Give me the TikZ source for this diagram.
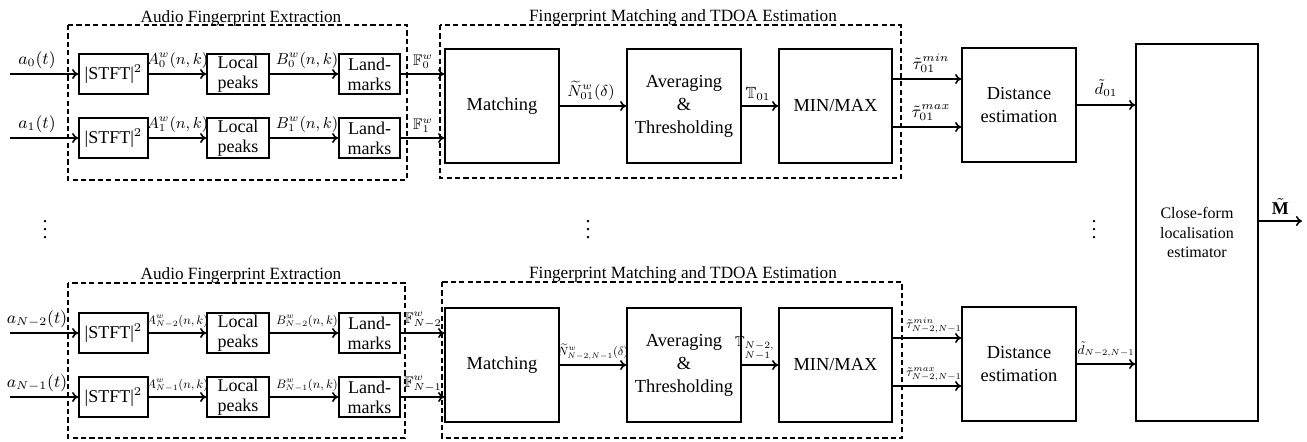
\documentclass[tikz,border=0pt]{standalone}
\usepackage{amsmath,amssymb,graphicx}
\usepackage{fontspec}
\setmainfont{Liberation Serif}
\usetikzlibrary{arrows.meta,calc}
\def\u{0.5pt}
\newcommand\msz[2]{\scalebox{#1}{$#2$}}
\begin{document}
\begin{tikzpicture}[x=0.5pt,y=-0.5pt,
  blk/.style={draw,line width=0.9pt,align=center,inner sep=0pt,font=\fontsize{9}{10}\selectfont},
  big/.style={blk,font=\fontsize{9.2}{11.5}\selectfont},
  group/.style={draw,line width=0.8pt,dash pattern=on 2.6pt off 1.6pt},
  arr/.style={line width=0.8pt,-{To[length=3pt,width=5pt]}},
  lbl/.style={font=\fontsize{9}{10}\selectfont,inner sep=1pt,anchor=south},
  ttl/.style={font=\fontsize{8.6}{10}\selectfont,inner sep=0pt,anchor=base}]
\useasboundingbox (0,0) rectangle (1307,441);

% group boxes (dashed frames)
\draw[group] (68,25) rectangle (407,180);
\draw[group] (440,25) rectangle (901,178);
\draw[group] (68,283) rectangle (405,438);
\draw[group] (442,282) rectangle (902,438);
\node[ttl] (T1) at (241,22) {Audio Fingerprint Extraction};
\node[ttl] (T2) at (683,21) {Fingerprint Matching and TDOA Estimation};
\node[ttl] (T3) at (241,279) {Audio Fingerprint Extraction};
\node[ttl] (T4) at (683,278) {Fingerprint Matching and TDOA Estimation};

% big blocks
\node[big,minimum width=114*\u,minimum height=114*\u] (MA) at (502,106) {Matching};
\node[big,minimum width=114*\u,minimum height=114*\u] (AA) at (684,106) {Averaging\\\&\\Thresholding};
\node[big,minimum width=113*\u,minimum height=114*\u] (XA) at (835.5,106) {MIN/MAX};
\node[big,minimum width=114*\u,minimum height=114*\u] (DA) at (1019,105) {Distance\\estimation};
\node[big,minimum width=114*\u,minimum height=114*\u] (MB) at (502,365) {Matching};
\node[big,minimum width=114*\u,minimum height=114*\u] (AB) at (684,365) {Averaging\\\&\\Thresholding};
\node[big,minimum width=113*\u,minimum height=114*\u] (XB) at (835.5,365) {MIN/MAX};
\node[big,minimum width=114*\u,minimum height=114*\u] (DB) at (1019,364) {Distance\\estimation};
\node[blk,minimum width=122*\u,minimum height=377*\u,font=\fontsize{8}{9.6}\selectfont] (C) at (1197,232.5) {Close-form\\localisation\\estimator};

% rows
\foreach \i/\y/\s/\m/\sc in {0/74/0/MA/0.88,1/138/1/MA/0.88,2/333/N-2/MB/0.68,3/397/N-1/MB/0.68}{
  \node[blk,minimum width=69*\u,minimum height=40*\u] (S\i) at (113.5,\y) {|STFT|$^2$};
  \node[blk,minimum width=62*\u,minimum height=40*\u] (P\i) at (238,\y) {Local\\peaks};
  \node[blk,minimum width=61*\u,minimum height=40*\u] (L\i) at (369.5,\y) {Land-\\marks};
  \coordinate (in\i) at (10,\y);
  \draw[arr] (in\i) -- (S\i);
  \draw[arr] (S\i) -- (P\i);
  \draw[arr] (P\i) -- (L\i);
  \draw[arr] (L\i) -- (\m.west |- L\i);
  \node[lbl] (la\i) at (37,\y-3) {\msz{0.95}{a_{\s}(t)}};
  \node[lbl] (lA\i) at (177.5,\y-3) {\msz{\sc}{A^{w}_{\s}(n,k)}};
  \node[lbl] (lB\i) at (307,\y-3) {\msz{\sc}{B^{w}_{\s}(n,k)}};
  \node[lbl] (lF\i) at (423,\y-3) {\msz{0.85}{\mathbb{F}^{w}_{\s}}};
}

% matching chain top
\draw[arr] (MA) -- (AA);
\draw[arr] (AA) -- (XA);
\node[lbl] (lN0) at (591,103) {\msz{0.88}{\widetilde{N}^{w}_{01}(\delta)}};
\node[lbl] (lT0) at (758,103) {\msz{0.9}{\mathbb{T}_{01}}};
\draw[arr] ($(XA.east)+(0,-27)$) -- ($(DA.west)+(0,-26)$) node[lbl,pos=0.56,yshift=2pt] (lmin0) {\msz{0.95}{\tilde\tau^{min}_{01}}};
\draw[arr] ($(XA.east)+(0,21)$) -- ($(DA.west)+(0,22)$) node[lbl,pos=0.56,yshift=2pt] (lmax0) {\msz{0.95}{\tilde\tau^{max}_{01}}};
\draw[arr] (DA) -- (C.west |- DA) node[lbl,midway,yshift=3pt] (ld0) {\msz{0.9}{\tilde d_{01}}};

% matching chain bottom
\draw[arr] (MB) -- (AB);
\draw[arr] (AB) -- (XB);
\node[lbl] (lN1) at (593,362) {\msz{0.66}{\widetilde{N}^{w}_{N-2,N-1}(\delta)}};
\node[lbl,anchor=south east] (lT1) at (777,362) {\msz{0.8}{\mathbb{T}_{\begin{subarray}{r}N-2,\\N-1\end{subarray}}}};
\draw[arr] ($(XB.east)+(0,-27)$) -- ($(DB.west)+(0,-26)$) node[lbl,pos=0.6,yshift=1pt] (lmin1) {\msz{0.72}{\tilde\tau^{min}_{N-2,N-1}}};
\draw[arr] ($(XB.east)+(0,21)$) -- ($(DB.west)+(0,22)$) node[lbl,pos=0.6,yshift=1pt] (lmax1) {\msz{0.72}{\tilde\tau^{max}_{N-2,N-1}}};
\draw[arr] (DB) -- (C.west |- DB) node[lbl,midway,yshift=2pt] (ld1) {\msz{0.72}{\tilde d_{N-2,N-1}}};

% output
\coordinate (out) at (1302,221);
\draw[arr] (C.east |- out) -- (out) node[lbl,pos=0.5,yshift=2pt] (lM) {$\tilde{\mathbf{M}}$};

% dots
\node (v1) at (45,224) {$\vdots$};
\node (v2) at (588,224) {$\vdots$};
\node (v3) at (1094,224) {$\vdots$};
\end{tikzpicture}
\end{document}
